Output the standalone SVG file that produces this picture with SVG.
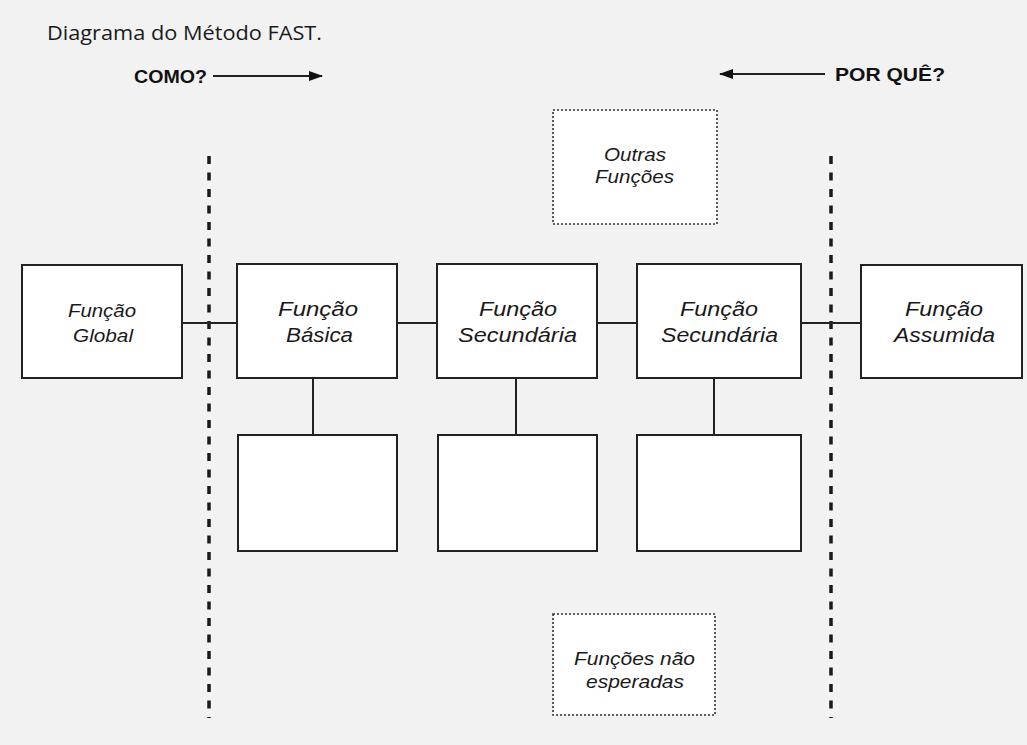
<svg xmlns="http://www.w3.org/2000/svg" width="1027" height="745" viewBox="0 0 1027 745">
  <defs>
    <style>
      .box { fill: #ffffff; stroke: #222222; stroke-width: 2; }
      .dbox { fill: #ffffff; stroke: #333333; stroke-width: 1.6; stroke-dasharray: 2 2; }
      .wire { fill: none; stroke: #222222; stroke-width: 2; }
      .divider { fill: none; stroke: #1a1a1a; stroke-width: 3.5; stroke-dasharray: 8 8.5; }
      .lbl { font-family: "Liberation Sans", Arial, sans-serif; font-style: italic; fill: #1a1a1a; }
      .head { font-family: "Liberation Sans", Arial, sans-serif; font-weight: bold; fill: #111111; font-size: 19px; }
      .title { font-family: "Open Sans", "Liberation Sans", sans-serif; fill: #1a1a1a; font-size: 19.5px; }
    </style>
    <marker id="arrow" viewBox="0 0 14 10" refX="13" refY="5" markerWidth="14" markerHeight="10" markerUnits="userSpaceOnUse" orient="auto">
      <path d="M0,0 L14,5 L0,10 z" fill="#111111"/>
    </marker>
  </defs>

  <!-- paper -->
  <rect x="0" y="0" width="1027" height="745" fill="#f2f2f2"/>

  <!-- heading and direction cues -->
  <g id="title">
    <text class="title" x="47" y="40" textLength="275" lengthAdjust="spacingAndGlyphs">Diagrama do Método FAST.</text>
  </g>
  <g id="como">
    <text class="head" x="134" y="83" textLength="73" lengthAdjust="spacingAndGlyphs">COMO?</text>
    <line class="wire" x1="213" y1="76" x2="322" y2="76" marker-end="url(#arrow)"/>
  </g>
  <g id="porque">
    <text class="head" x="835" y="81" textLength="110" lengthAdjust="spacingAndGlyphs">POR QUÊ?</text>
    <line class="wire" x1="825" y1="74" x2="720" y2="74" marker-end="url(#arrow)"/>
  </g>

  <!-- scope boundaries -->
  <g id="boundaries">
    <line class="divider" x1="209" y1="156" x2="209" y2="718"/>
    <line class="divider" x1="831" y1="156" x2="831" y2="718"/>
  </g>

  <!-- connectors -->
  <g id="connectors">
    <line class="wire" x1="182" y1="323" x2="237" y2="323"/>
    <line class="wire" x1="397" y1="323" x2="437" y2="323"/>
    <line class="wire" x1="597" y1="323" x2="637" y2="323"/>
    <line class="wire" x1="801" y1="323" x2="861" y2="323"/>
    <line class="wire" x1="313" y1="378" x2="313" y2="435"/>
    <line class="wire" x1="516" y1="378" x2="516" y2="435"/>
    <line class="wire" x1="714" y1="378" x2="714" y2="435"/>
  </g>

  <!-- main function chain -->
  <g id="funcao-global">
    <rect class="box" x="22" y="265" width="160" height="113"/>
    <text class="lbl" font-size="18.5" x="68" y="317" textLength="68" lengthAdjust="spacingAndGlyphs">Função</text>
    <text class="lbl" font-size="18.5" x="73" y="342" textLength="60" lengthAdjust="spacingAndGlyphs">Global</text>
  </g>
  <g id="funcao-basica">
    <rect class="box" x="237" y="264" width="160" height="114"/>
    <text class="lbl" font-size="20" x="278" y="316" textLength="80" lengthAdjust="spacingAndGlyphs">Função</text>
    <text class="lbl" font-size="20" x="286" y="342" textLength="67" lengthAdjust="spacingAndGlyphs">Básica</text>
  </g>
  <g id="funcao-secundaria-1">
    <rect class="box" x="437" y="264" width="160" height="114"/>
    <text class="lbl" font-size="20" x="479" y="316" textLength="78" lengthAdjust="spacingAndGlyphs">Função</text>
    <text class="lbl" font-size="20" x="458" y="342" textLength="119" lengthAdjust="spacingAndGlyphs">Secundária</text>
  </g>
  <g id="funcao-secundaria-2">
    <rect class="box" x="637" y="264" width="164" height="114"/>
    <text class="lbl" font-size="20" x="680" y="316" textLength="78" lengthAdjust="spacingAndGlyphs">Função</text>
    <text class="lbl" font-size="20" x="661" y="342" textLength="117" lengthAdjust="spacingAndGlyphs">Secundária</text>
  </g>
  <g id="funcao-assumida">
    <rect class="box" x="861" y="265" width="161" height="113"/>
    <text class="lbl" font-size="20" x="905" y="316" textLength="78" lengthAdjust="spacingAndGlyphs">Função</text>
    <text class="lbl" font-size="20" x="894" y="342" textLength="101" lengthAdjust="spacingAndGlyphs">Assumida</text>
  </g>

  <!-- empty sub-function boxes -->
  <g id="sub-basica">
    <rect class="box" x="238" y="435" width="159" height="116"/>
  </g>
  <g id="sub-secundaria-1">
    <rect class="box" x="438" y="435" width="159" height="116"/>
  </g>
  <g id="sub-secundaria-2">
    <rect class="box" x="637" y="435" width="164" height="116"/>
  </g>

  <!-- side functions -->
  <g id="outras-funcoes">
    <rect class="dbox" x="553" y="110" width="164" height="114"/>
    <text class="lbl" font-size="17.5" x="604" y="161" textLength="62" lengthAdjust="spacingAndGlyphs">Outras</text>
    <text class="lbl" font-size="17.5" x="595" y="183" textLength="79" lengthAdjust="spacingAndGlyphs">Funções</text>
  </g>
  <g id="funcoes-nao-esperadas">
    <rect class="dbox" x="553" y="614" width="162" height="101"/>
    <text class="lbl" font-size="17.5" x="574" y="665" textLength="121" lengthAdjust="spacingAndGlyphs">Funções não</text>
    <text class="lbl" font-size="17.5" x="586" y="688" textLength="98" lengthAdjust="spacingAndGlyphs">esperadas</text>
  </g>
</svg>
